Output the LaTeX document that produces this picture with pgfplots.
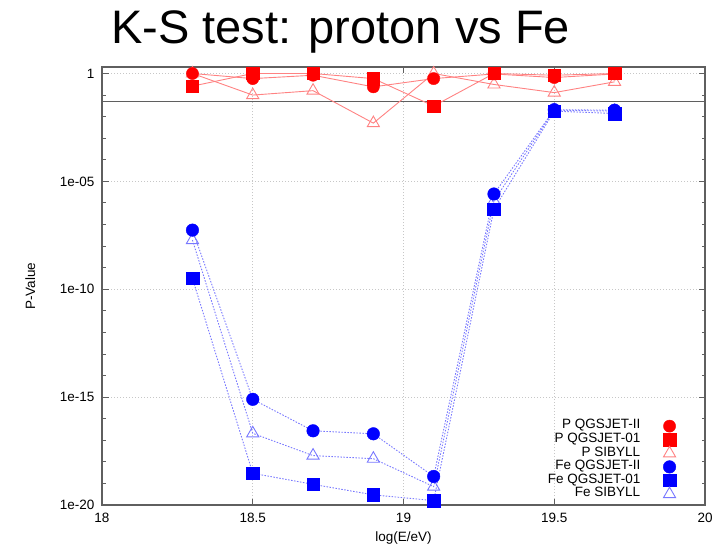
\documentclass[border=0pt]{standalone}
\usepackage{pgfplots}
\pgfplotsset{compat=1.18}
\usepackage{fontspec}
\setmainfont{Liberation Sans}

\definecolor{pline}{RGB}{255,130,130}
\definecolor{fline}{RGB}{120,120,255}
\definecolor{frame}{RGB}{95,95,95}

\pgfplotsset{
  pcirc/.style={only marks, mark=*, mark size=6.1pt, color=red},
  psq/.style={only marks, mark=square*, mark size=6.2pt, color=red},
  ptri/.style={only marks, mark=triangle, mark size=7pt, color=pline, mark options={line width=0.9pt}},
  fcirc/.style={only marks, mark=*, mark size=6.3pt, color=blue},
  fsq/.style={only marks, mark=square*, mark size=6.3pt, color=blue},
  ftri/.style={only marks, mark=triangle, mark size=7pt, color=fline, mark options={line width=0.9pt}},
  pl/.style={forget plot, color=pline, line width=0.9pt},
  fl/.style={forget plot, color=fline, line width=0.9pt, dash pattern=on 1.5pt off 1.5pt},
}

\begin{document}
\begin{tikzpicture}[x=1pt,y=1pt]
\path[use as bounding box] (0,0) rectangle (728,552);
\node[anchor=base west,inner sep=0pt,font=\fontsize{47}{50}\selectfont] at (111,508.5) {K-S test: proton vs Fe};
\begin{axis}[
  at={(102pt,47pt)}, anchor=south west,
  scale only axis, width=603pt, height=438pt,
  xmin=18, xmax=20, ymin=1e-20, ymax=2,
  ymode=log,
  xtick={18,18.5,19,19.5,20},
  xticklabels={18,18.5,19,19.5,20},
  ytick={1e-20,1e-15,1e-10,1e-5,1},
  yticklabels={1e-20,1e-15,1e-10,1e-05,1},
  minor ytick={1e-19,1e-18,1e-17,1e-16,1e-14,1e-13,1e-12,1e-11,1e-9,1e-8,1e-7,1e-6,1e-4,1e-3,1e-2,1e-1},
  tick align=inside,
  major tick length=6.5pt, minor tick length=3.5pt,
  tick style={color=frame, line width=0.9pt},
  axis line style={color=frame, line width=1.2pt},
  grid=major,
  major grid style={color=black!22, line width=0.6pt, dash pattern=on 1pt off 2pt},
  tick label style={font=\fontsize{13.5}{15}\selectfont},
  /pgf/number format/assume math mode=true,
  yticklabel style={xshift=-4pt},
  xticklabel style={yshift=-5pt},
  xlabel={log(E/eV)}, ylabel={P-Value},
  label style={font=\fontsize{13.5}{15}\selectfont},
  xlabel style={at={(axis description cs:0.5,-0.0754)}, anchor=center},
  ylabel style={at={(axis description cs:-0.119,0.5)}, anchor=center},
  legend cell align=right,
  legend plot pos=right,
  legend style={draw=none, fill=none, at={(axis cs:19.904,9.5e-17)}, anchor=north east,
    inner sep=0pt, row sep=0pt, column sep=23pt,
    font=\fontsize{13.5}{15}\selectfont,
    nodes={inner sep=0pt, text height=9.5pt, text depth=4pt}},
  clip=false,
]
% significance level p = 0.05
\addplot[forget plot, color=frame, line width=1.2pt] coordinates {(18,0.05) (20,0.05)};

% proton, SIBYLL
\addplot[pl] coordinates {
(18.3,1.0) (18.5,0.10) (18.7,0.16) (18.9,0.005) (19.1,1.0) (19.3,0.31) (19.5,0.13) (19.7,0.41)};
\addplot[ptri, forget plot] coordinates {
(18.3,1.0) (18.5,0.10) (18.7,0.16) (18.9,0.005) (19.1,1.0) (19.3,0.31) (19.5,0.13) (19.7,0.41)};

% proton, QGSJET-II
\addplot[pl] coordinates {
(18.3,1.0) (18.5,0.58) (18.7,0.83) (18.9,0.24) (19.1,0.58) (19.3,0.95) (19.5,0.65) (19.7,0.95)};
\addplot[pcirc, forget plot] coordinates {
(18.3,1.0) (18.5,0.58) (18.7,0.83) (18.9,0.24) (19.1,0.58) (19.3,0.95) (19.5,0.65) (19.7,0.95)};

% proton, QGSJET-01
\addplot[pl] coordinates {
(18.3,0.26) (18.5,1.0) (18.7,1.0) (18.9,0.58) (19.1,0.031) (19.3,1.0) (19.5,0.83) (19.7,1.0)};
\addplot[psq, forget plot] coordinates {
(18.3,0.26) (18.5,1.0) (18.7,1.0) (18.9,0.58) (19.1,0.031) (19.3,1.0) (19.5,0.83) (19.7,1.0)};

% iron, SIBYLL
\addplot[fl] coordinates {
(18.3,1.9e-8) (18.5,2.1e-17) (18.7,1.95e-18) (18.9,1.4e-18) (19.1,7.1e-20) (19.3,1.26e-6) (19.5,0.020) (19.7,0.018)};
\addplot[ftri, forget plot] coordinates {
(18.3,1.9e-8) (18.5,2.1e-17) (18.7,1.95e-18) (18.9,1.4e-18) (19.1,7.1e-20) (19.3,1.26e-6) (19.5,0.020) (19.7,0.018)};

% iron, QGSJET-II
\addplot[fl] coordinates {
(18.3,5.5e-8) (18.5,7.9e-16) (18.7,2.75e-17) (18.9,2.0e-17) (19.1,2.1e-19) (19.3,2.6e-6) (19.5,0.021) (19.7,0.020)};
\addplot[fcirc, forget plot] coordinates {
(18.3,5.5e-8) (18.5,7.9e-16) (18.7,2.75e-17) (18.9,2.0e-17) (19.1,2.1e-19) (19.3,2.6e-6) (19.5,0.021) (19.7,0.020)};

% iron, QGSJET-01
\addplot[fl] coordinates {
(18.3,3.2e-10) (18.5,2.95e-19) (18.7,9.1e-20) (18.9,2.95e-20) (19.1,1.6e-20) (19.3,5.2e-7) (19.5,0.018) (19.7,0.014)};
\addplot[fsq, forget plot] coordinates {
(18.3,3.2e-10) (18.5,2.95e-19) (18.7,9.1e-20) (18.9,2.95e-20) (19.1,1.6e-20) (19.3,5.2e-7) (19.5,0.018) (19.7,0.014)};

% legend
\addlegendimage{pcirc}\addlegendentry{P QGSJET-II}
\addlegendimage{psq}\addlegendentry{P QGSJET-01}
\addlegendimage{ptri}\addlegendentry{P SIBYLL}
\addlegendimage{fcirc}\addlegendentry{Fe QGSJET-II}
\addlegendimage{fsq}\addlegendentry{Fe QGSJET-01}
\addlegendimage{ftri}\addlegendentry{Fe SIBYLL}
\end{axis}
\end{tikzpicture}
\end{document}
